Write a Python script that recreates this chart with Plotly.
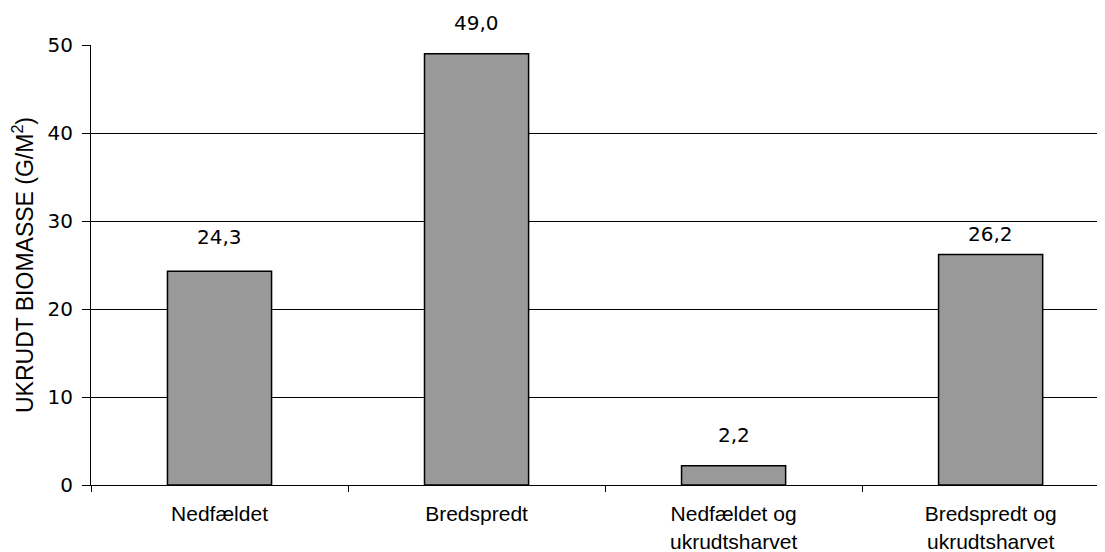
import plotly.graph_objects as go

categories = ["Nedfældet", "Bredspredt", "Nedfældet og<br>ukrudtsharvet", "Bredspredt og<br>ukrudtsharvet"]
values = [24.3, 49.0, 2.2, 26.2]
y_ticks = [0, 10, 20, 30, 40, 50]

# label offsets above bars (pixels) - styling only
label_shift = [34, 31, 31, 20]

fig = go.Figure()
fig.add_trace(go.Bar(
    x=categories, y=values, width=0.405,
    marker=dict(color="#999999", line=dict(color="black", width=1.5)),
    hoverinfo="skip",
))

for c, v, s in zip(categories, values, label_shift):
    fig.add_annotation(x=c, y=v, text=f"{v:.1f}".replace(".", ","), showarrow=False,
                       yshift=s, font=dict(family="DejaVu Sans", size=20, color="black"))

# page body adds an 8px offset; compensate in size/margins
fig.update_layout(
    width=1097, height=544,
    margin=dict(l=83, r=0, t=37, b=67),
    paper_bgcolor="white", plot_bgcolor="white",
    showlegend=False,
    xaxis=dict(
        range=[-0.5, 3.445], tickson="boundaries", ticks="outside", ticklen=6,
        tickcolor="black", showline=True, linecolor="black", linewidth=1,
        tickfont=dict(family="Liberation Sans", size=21, color="black"),
        ticklabelstandoff=10,
        showgrid=False,
    ),
    yaxis=dict(
        range=[0, 50], tickvals=y_ticks, ticks="outside", ticklen=8, tickcolor="black",
        showline=True, linecolor="black", linewidth=1,
        showgrid=True, gridcolor="black", gridwidth=1,
        tickfont=dict(family="DejaVu Sans", size=20, color="black"),
        ticklabelstandoff=5,
        title=dict(text="UKRUDT BIOMASSE (G/M<sup>2</sup>)", standoff=14,
                   font=dict(family="Liberation Sans", size=23, color="black")),
        zeroline=False,
    ),
)
fig.write_html("out.html")
